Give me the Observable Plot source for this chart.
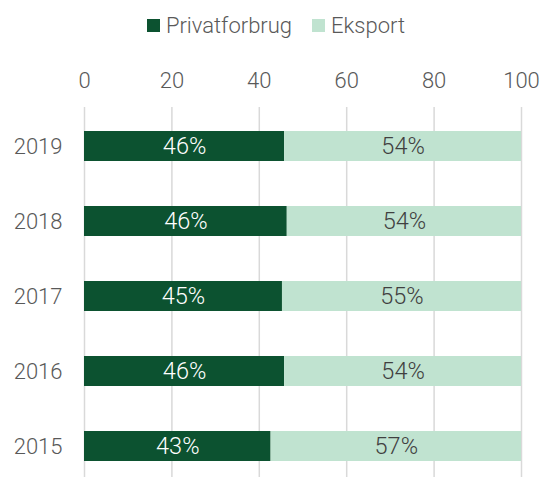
<!DOCTYPE html>
<html>
<head>
<meta charset="utf-8">
<script src="https://cdn.jsdelivr.net/npm/d3@7"></script>
<script src="https://cdn.jsdelivr.net/npm/@observablehq/plot@0.6"></script>
<style>
  html, body { margin: 0; padding: 0; background: #fff; }
  body { width: 542px; height: 477px; overflow: hidden; font-family: "Roboto", sans-serif; font-weight: 300; }
  #legend { height: 50px; display: flex; justify-content: center; align-items: center; padding-left: 10px; box-sizing: border-box; color: #595959; font-size: 22px; }
  #legend .item { display: flex; align-items: center; margin: 0 10px; }
  #legend .sw { width: 13px; height: 13px; margin-right: 6px; }
</style>
</head>
<body>
<div id="legend"></div>
<div id="chart"></div>
<script>
const years = ["2019", "2018", "2017", "2016", "2015"];
const privatforbrug = [45.8, 46.4, 45.3, 45.8, 42.7];
const eksport = [54.2, 53.6, 54.7, 54.2, 57.3];
const seriesNames = ["Privatforbrug", "Eksport"];
const seriesColors = ["#0c5230", "#c0e3d0"];
const labelColors = ["#ffffff", "#404040"];
const xTicks = [0, 20, 40, 60, 80, 100];

const rows = [];
years.forEach((y, i) => {
  rows.push({year: y, series: seriesNames[0], value: privatforbrug[i]});
  rows.push({year: y, series: seriesNames[1], value: eksport[i]});
});

// legend
const leg = document.getElementById("legend");
seriesNames.forEach((s, i) => {
  const item = document.createElement("div");
  item.className = "item";
  const sw = document.createElement("span");
  sw.className = "sw";
  sw.style.background = seriesColors[i];
  const t = document.createElement("span");
  t.textContent = s;
  item.appendChild(sw);
  item.appendChild(t);
  leg.appendChild(item);
});

const chart = Plot.plot({
  width: 542,
  height: 427,
  marginTop: 57,
  marginLeft: 84,
  marginRight: 21,
  marginBottom: 0,
  style: {fontFamily: '"Roboto", sans-serif', fontWeight: 300, fontSize: "22px", color: "#595959", background: "#fff"},
  x: {domain: [0, 100], ticks: xTicks, axis: null},
  y: {domain: years, paddingInner: 0.6, paddingOuter: 0.25, align: 0.6, axis: null},
  color: {domain: seriesNames, range: seriesColors},
  marks: [
    Plot.gridX(xTicks, {stroke: "#d9d9d9", strokeOpacity: 1, strokeWidth: 1.5}),
    Plot.barX(rows, Plot.stackX({x: "value", y: "year", fill: "series", order: seriesNames})),
    Plot.text(rows, Plot.stackX({x: "value", y: "year", order: seriesNames,
      text: d => Math.round(d.value) + "%",
      fill: d => labelColors[seriesNames.indexOf(d.series)],
      fontSize: 23.5, fontWeight: 300})),
    Plot.axisX(xTicks, {anchor: "top", label: null, tickSize: 0, tickPadding: 20, fontSize: 22, fill: "#595959"}),
    Plot.axisY({label: null, tickSize: 0, tickPadding: 22, fontSize: 22, fill: "#595959"})
  ]
});
document.getElementById("chart").appendChild(chart);
</script>
</body>
</html>
